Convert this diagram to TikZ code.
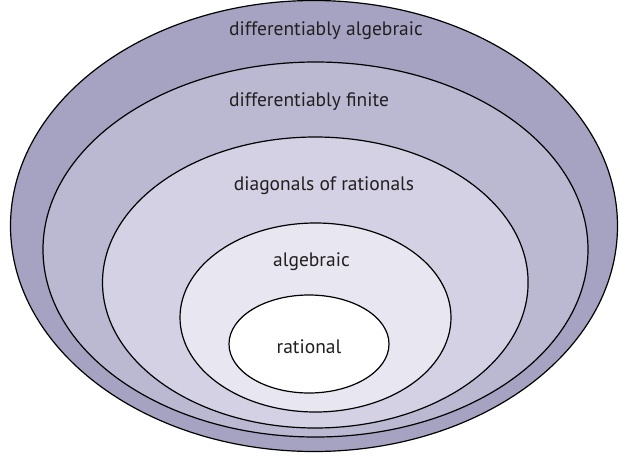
\documentclass[tikz,border=0pt]{standalone}
\usepackage{fontspec}
\setmainfont{PT Sans}
\usepackage{tikz}

\definecolor{ringA}{HTML}{A5A3C1}
\definecolor{ringB}{HTML}{BBB9D2}
\definecolor{ringC}{HTML}{D3D1E3}
\definecolor{ringD}{HTML}{E8E6F0}
\definecolor{inktext}{HTML}{231F20}

\begin{document}
\begin{tikzpicture}[x=1pt, y=-1pt,
    ring/.style={draw=black, line width=1.2pt},
    label/.style={inner sep=0pt, text=inktext, font=\fontsize{19.5}{22}\selectfont}]
    \useasboundingbox (0, 0) rectangle (619, 456);

    % Nested classes, outermost first
    \filldraw[ring, fill=ringA] (314, 226) ellipse [x radius=303.5, y radius=225.5];
    \filldraw[ring, fill=ringB] (315.5, 249.5) ellipse [x radius=272.5, y radius=187.5];
    \filldraw[ring, fill=ringC] (315.3, 282.5) ellipse [x radius=212.8, y radius=145.5];
    \filldraw[ring, fill=ringD] (315.5, 317.5) ellipse [x radius=135.5, y radius=94.5];
    \filldraw[ring, fill=white] (309, 344) ellipse [x radius=80, y radius=49];

    % Class names
    \node[label] (dalg) at (326, 31) {differentiably algebraic};
    \node[label] (dfin) at (309, 102) {differentiably finite};
    \node[label] (diag) at (324, 186) {diagonals of rationals};
    \node[label] (alg) at (311.5, 262) {algebraic};
    \node[label] (rat) at (309, 347) {rational};
\end{tikzpicture}
\end{document}
